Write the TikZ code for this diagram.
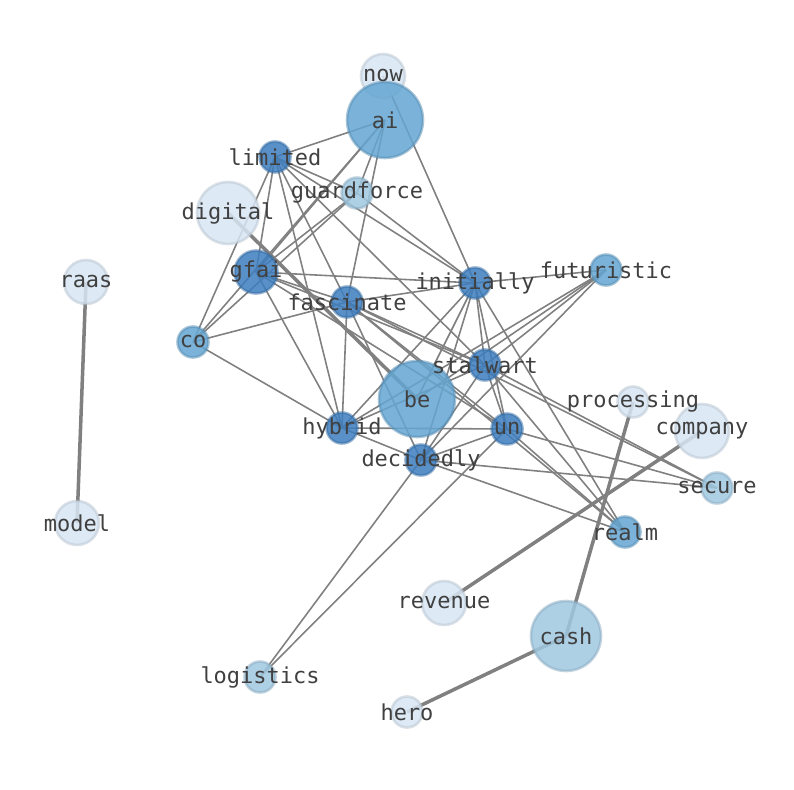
\documentclass[tikz,border=0pt]{standalone}
\usepackage{fontspec}
\setmonofont{DejaVu Sans Mono}
\usetikzlibrary{backgrounds}
\definecolor{dark}{RGB}{60,125,190}
\definecolor{mid}{RGB}{100,165,210}
\definecolor{pale}{RGB}{160,200,225}
\definecolor{faint}{RGB}{215,230,244}
\begin{document}
\begin{tikzpicture}[x=0.02cm, y=-0.02cm,
    vertex/.style={circle, draw=#1!85!black, fill=#1, fill opacity=0.85, draw opacity=0.5,
        line width=1.5pt, inner sep=0pt},
    word/.style={font=\ttfamily\fontsize{12.5}{14}\selectfont, text=black!75, inner sep=0pt},
    edge/.style={draw, black!50, line width=0.9pt},
    heavy edge/.style={draw, black!50, line width=2pt},
  ]
  \useasboundingbox (0,0) rectangle (794,790);
  \node[vertex=faint, minimum size=0.88cm] (now) at (383,76) {};
  \node[vertex=mid, minimum size=1.52cm] (ai) at (385,120) {};
  \node[vertex=dark, minimum size=0.62cm] (limited) at (275,157) {};
  \node[vertex=pale, minimum size=0.62cm] (guardforce) at (357,193) {};
  \node[vertex=faint, minimum size=1.24cm] (digital) at (228,213) {};
  \node[vertex=dark, minimum size=0.86cm] (gfai) at (256,272) {};
  \node[vertex=dark, minimum size=0.62cm] (fascinate) at (347,302) {};
  \node[vertex=dark, minimum size=0.62cm] (initially) at (475,283) {};
  \node[vertex=mid, minimum size=0.62cm] (futuristic) at (606,270) {};
  \node[vertex=mid, minimum size=0.62cm] (co) at (193,342) {};
  \node[vertex=dark, minimum size=0.62cm] (stalwart) at (485,365) {};
  \node[vertex=mid, minimum size=1.52cm] (be) at (417,399) {};
  \node[vertex=faint, minimum size=0.62cm] (processing) at (633,402) {};
  \node[vertex=faint, minimum size=1.08cm] (company) at (702,431) {};
  \node[vertex=dark, minimum size=0.62cm] (hybrid) at (342,428) {};
  \node[vertex=dark, minimum size=0.62cm] (un) at (507,429) {};
  \node[vertex=dark, minimum size=0.62cm] (decidedly) at (421,460) {};
  \node[vertex=pale, minimum size=0.62cm] (secure) at (717,488) {};
  \node[vertex=mid, minimum size=0.62cm] (realm) at (625,532) {};
  \node[vertex=faint, minimum size=0.88cm] (raas) at (86,282) {};
  \node[vertex=faint, minimum size=0.88cm] (model) at (77,523) {};
  \node[vertex=faint, minimum size=0.88cm] (revenue) at (444,603) {};
  \node[vertex=pale, minimum size=1.4cm] (cash) at (566,636) {};
  \node[vertex=pale, minimum size=0.62cm] (logistics) at (260,677) {};
  \node[vertex=faint, minimum size=0.62cm] (hero) at (407,712) {};
  \begin{scope}[on background layer]
    \foreach \a/\b in {now/initially, ai/limited, ai/gfai, ai/co, ai/guardforce, ai/fascinate,
        limited/guardforce, limited/initially, limited/gfai, limited/co, limited/fascinate,
        limited/hybrid, limited/stalwart, guardforce/gfai, guardforce/co, guardforce/initially,
        gfai/initially, gfai/stalwart, gfai/un, gfai/hybrid, gfai/fascinate,
        fascinate/co, fascinate/initially, fascinate/stalwart, fascinate/un, fascinate/decidedly,
        fascinate/hybrid, fascinate/realm, fascinate/secure, co/hybrid,
        initially/futuristic, initially/hybrid, initially/decidedly, initially/stalwart,
        initially/un, initially/realm, initially/be,
        futuristic/stalwart, futuristic/hybrid, futuristic/decidedly, futuristic/be,
        stalwart/hybrid, stalwart/decidedly, stalwart/un, stalwart/realm, stalwart/secure,
        hybrid/un, hybrid/decidedly, un/decidedly, un/secure, un/realm, un/logistics,
        decidedly/secure, decidedly/realm, decidedly/logistics}
      \draw[edge] (\a.center) -- (\b.center);
    \foreach \a/\b in {raas/model, processing/cash, company/revenue, cash/hero, digital/be}
      \draw[heavy edge] (\a.center) -- (\b.center);
  \end{scope}
  \foreach \n in {now, ai, limited, guardforce, digital, gfai, fascinate, initially, futuristic,
      co, stalwart, be, processing, company, hybrid, un, decidedly, secure, realm, raas,
      model, revenue, cash, logistics, hero}
    \node[word] at (\n) {\n};
\end{tikzpicture}
\end{document}
